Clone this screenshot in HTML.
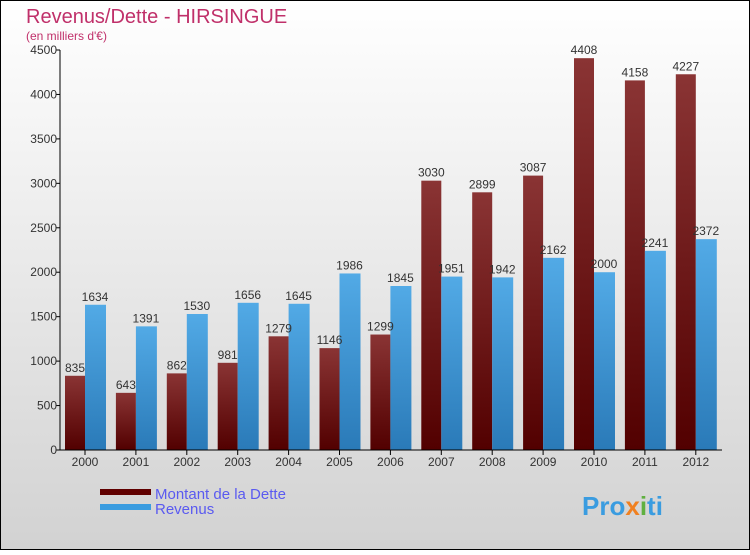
<!DOCTYPE html>
<html><head><meta charset="utf-8"><style>
html,body{margin:0;padding:0}
body{width:750px;height:550px;overflow:hidden;font-family:"Liberation Sans",sans-serif}
</style></head><body>
<svg width="750" height="550" xmlns="http://www.w3.org/2000/svg" id="svg">
<defs>
<linearGradient id="bg" x1="0" y1="0" x2="0" y2="1"><stop offset="0" stop-color="#ffffff"/><stop offset="1" stop-color="#d2d2d2"/></linearGradient>
<linearGradient id="gd" x1="0" y1="0" x2="0" y2="1"><stop offset="0" stop-color="#8a3434"/><stop offset="1" stop-color="#520000"/></linearGradient>
<linearGradient id="gr" x1="0" y1="0" x2="0" y2="1"><stop offset="0" stop-color="#52aae6"/><stop offset="1" stop-color="#2a7ab8"/></linearGradient>
</defs>
<rect x="0.5" y="0.5" width="749" height="549" fill="url(#bg)" stroke="#000"/>
<text x="26" y="23" font-size="20" fill="#c0306a">Revenus/Dette - HIRSINGUE</text>
<text x="26" y="40" font-size="12" fill="#c0306a">(en milliers d'€)</text>
<g id="plot"></g>
<g>
<rect x="100" y="489" width="51" height="6" fill="#600000"/>
<text x="155" y="499" font-size="15" fill="#5a5af0">Montant de la Dette</text>
<rect x="100" y="504" width="51" height="6" fill="#3a9ce0"/>
<text x="155" y="514" font-size="15" fill="#5a5af0">Revenus</text>
</g>
<text x="582" y="515" font-size="26" font-weight="bold" fill="#3a9ce0">Pro<tspan fill="#f08020">x</tspan><tspan fill="#60b040">i</tspan>ti</text>
</svg>
<script>
const categories=["2000","2001","2002","2003","2004","2005","2006","2007","2008","2009","2010","2011","2012"];
const dette=[835,643,862,981,1279,1146,1299,3030,2899,3087,4408,4158,4227];
const revenus=[1634,1391,1530,1656,1645,1986,1845,1951,1942,2162,2000,2241,2372];
const yTicks=[0,500,1000,1500,2000,2500,3000,3500,4000,4500];
const NS="http://www.w3.org/2000/svg";
const g=document.getElementById('plot');
const y=v=>450-v*400/4500;
const x=i=>85+i*50.9;
function el(t,a){const e=document.createElementNS(NS,t);for(const k in a)e.setAttribute(k,a[k]);g.appendChild(e);return e;}
categories.forEach((c,i)=>{
  const cx=x(i);
  const b1=el('rect',{x:cx-20,y:y(dette[i]),width:20,height:450-y(dette[i]),fill:'url(#gd)'});
  
  
  const b2=el('rect',{x:cx,y:y(revenus[i]),width:21,height:450-y(revenus[i]),fill:'url(#gr)'});
  
  
  const t1=el('text',{x:cx-10,y:y(dette[i])-4,'font-size':12,'text-anchor':'middle',fill:'#333'});t1.textContent=dette[i];
  
  
  const t2=el('text',{x:cx+10,y:y(revenus[i])-4,'font-size':12,'text-anchor':'middle',fill:'#333'});t2.textContent=revenus[i];
  
  
  const tk=el('line',{x1:cx,x2:cx,y1:450,y2:455,stroke:'#000'});
  
  
  const xl=el('text',{x:cx,y:466,'font-size':12,'text-anchor':'middle',fill:'#333'});xl.textContent=c;
  
  
});
yTicks.forEach(v=>{
  const tk=el('line',{x1:56,x2:60,y1:y(v),y2:y(v),stroke:'#000'});
  
  
  const yl=el('text',{x:57,y:y(v)+4,'font-size':12,'text-anchor':'end',fill:'#333'});yl.textContent=v;
  
  
});
const ya=el('line',{x1:60,x2:60,y1:50,y2:450,stroke:'#000'});


const xa=el('line',{x1:60,x2:722,y1:450,y2:450,stroke:'#000'});


</script>
</body></html>
